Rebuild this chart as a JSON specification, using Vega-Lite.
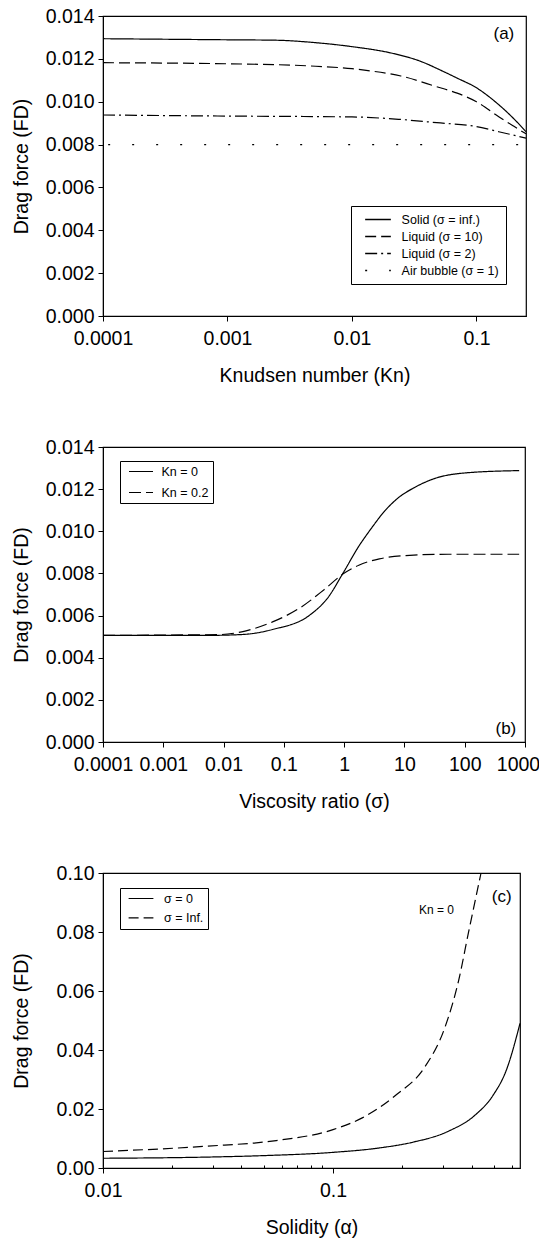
{
 "$schema": "https://vega.github.io/schema/vega-lite/v6.json",
 "padding": {"left": 10, "top": 5, "right": 0, "bottom": 0},
 "bounds": "flush",
 "spacing": 131,
 "config": {
  "font": "Liberation Sans",
  "view": {"stroke": "black", "strokeWidth": 1.2},
  "axis": {"grid": false, "domainColor": "black", "tickColor": "black", "labelColor": "black", "titleColor": "black", "labelFontSize": 19.5, "titleFontSize": 19.5, "titleFontWeight": "normal", "tickSize": 5, "labelOverlap": false, "labelFlush": false, "labelBound": false},
  "axisY": {"labelPadding": 4, "minExtent": 59, "maxExtent": 59, "titlePadding": 13},
  "axisX": {"labelPadding": 8.6, "minExtent": 33, "maxExtent": 33, "titlePadding": 17.5},
  "legend": {"title": null, "orient": "none", "symbolType": "stroke", "symbolStrokeColor": "black", "labelColor": "black", "fillColor": "white", "strokeColor": "black", "clipHeight": 13},
  "text": {"color": "black"}
 },
 "resolve": {"scale": {"strokeDash": "independent"}, "legend": {"strokeDash": "independent"}},
 "vconcat": [
  {
   "width": 423, "height": 300,
   "layer": [
    {
     "data": {"values": [
      {"kn": 0.0001, "fd": 0.01294, "series": "Solid (σ = inf.)"},
      {"kn": 0.001, "fd": 0.01289, "series": "Solid (σ = inf.)"},
      {"kn": 0.00244, "fd": 0.01287, "series": "Solid (σ = inf.)"},
      {"kn": 0.005, "fd": 0.01276, "series": "Solid (σ = inf.)"},
      {"kn": 0.01, "fd": 0.01257, "series": "Solid (σ = inf.)"},
      {"kn": 0.0211, "fd": 0.01226, "series": "Solid (σ = inf.)"},
      {"kn": 0.035, "fd": 0.0119, "series": "Solid (σ = inf.)"},
      {"kn": 0.0547, "fd": 0.0114, "series": "Solid (σ = inf.)"},
      {"kn": 0.07, "fd": 0.0111, "series": "Solid (σ = inf.)"},
      {"kn": 0.1, "fd": 0.01065, "series": "Solid (σ = inf.)"},
      {"kn": 0.1415, "fd": 0.01, "series": "Solid (σ = inf.)"},
      {"kn": 0.2, "fd": 0.0092, "series": "Solid (σ = inf.)"},
      {"kn": 0.25, "fd": 0.0086, "series": "Solid (σ = inf.)"},
      {"kn": 0.0001, "fd": 0.01182, "series": "Liquid (σ = 10)"},
      {"kn": 0.001, "fd": 0.01177, "series": "Liquid (σ = 10)"},
      {"kn": 0.00459, "fd": 0.01167, "series": "Liquid (σ = 10)"},
      {"kn": 0.01, "fd": 0.01154, "series": "Liquid (σ = 10)"},
      {"kn": 0.0144, "fd": 0.01143, "series": "Liquid (σ = 10)"},
      {"kn": 0.0247, "fd": 0.0112, "series": "Liquid (σ = 10)"},
      {"kn": 0.048, "fd": 0.0107, "series": "Liquid (σ = 10)"},
      {"kn": 0.07, "fd": 0.0104, "series": "Liquid (σ = 10)"},
      {"kn": 0.1, "fd": 0.01, "series": "Liquid (σ = 10)"},
      {"kn": 0.151, "fd": 0.0093, "series": "Liquid (σ = 10)"},
      {"kn": 0.2, "fd": 0.00885, "series": "Liquid (σ = 10)"},
      {"kn": 0.25, "fd": 0.0085, "series": "Liquid (σ = 10)"},
      {"kn": 0.0001, "fd": 0.00938, "series": "Liquid (σ = 2)"},
      {"kn": 0.001, "fd": 0.00933, "series": "Liquid (σ = 2)"},
      {"kn": 0.01, "fd": 0.00929, "series": "Liquid (σ = 2)"},
      {"kn": 0.0237, "fd": 0.00918, "series": "Liquid (σ = 2)"},
      {"kn": 0.048, "fd": 0.00902, "series": "Liquid (σ = 2)"},
      {"kn": 0.1, "fd": 0.00884, "series": "Liquid (σ = 2)"},
      {"kn": 0.151, "fd": 0.0086, "series": "Liquid (σ = 2)"},
      {"kn": 0.25, "fd": 0.0083, "series": "Liquid (σ = 2)"},
      {"kn": 0.00011, "fd": 0.008, "series": "Air bubble (σ = 1)"},
      {"kn": 0.25, "fd": 0.008, "series": "Air bubble (σ = 1)"}
     ]},
     "mark": {"type": "line", "color": "black", "strokeWidth": 1.2, "interpolate": "monotone"},
     "encoding": {
      "x": {"field": "kn", "type": "quantitative", "scale": {"type": "log", "domain": [0.0001, 0.25], "nice": false}, "axis": {"values": [0.0001, 0.001, 0.01, 0.1], "format": "~g", "title": "Knudsen number (Kn)"}},
      "y": {"field": "fd", "type": "quantitative", "scale": {"domain": [0, 0.014], "nice": false}, "axis": {"values": [0, 0.002, 0.004, 0.006, 0.008, 0.01, 0.012, 0.014], "format": ".3f", "title": "Drag force (FD)"}},
      "strokeDash": {"field": "series", "type": "nominal", "sort": null,
       "scale": {"domain": ["Solid (σ = inf.)", "Liquid (σ = 10)", "Liquid (σ = 2)", "Air bubble (σ = 1)"], "range": [[1, 0], [11, 5], [12, 4, 2, 4], [2, 22]]},
       "legend": {"legendX": 248, "legendY": 190, "symbolSize": 660, "symbolStrokeWidth": 1.5, "labelFontSize": 12.5, "padding": 7, "symbolOffset": 6, "labelOffset": 9.6, "rowPadding": 4}}
     }
    },
    {
     "data": {"values": [{"kn": 0.166, "fd": 0.01315, "label": "(a)"}]},
     "mark": {"type": "text", "fontSize": 17, "align": "center", "baseline": "middle", "color": "black"},
     "encoding": {"x": {"field": "kn", "type": "quantitative"}, "y": {"field": "fd", "type": "quantitative"}, "text": {"field": "label"}}
    }
   ]
  },
  {
   "width": 422, "height": 295,
   "layer": [
    {
     "data": {"values": [
      {"vr": 0.0001, "fd": 0.00506, "series": "Kn = 0"},
      {"vr": 0.0054, "fd": 0.00506, "series": "Kn = 0"},
      {"vr": 0.02, "fd": 0.0051, "series": "Kn = 0"},
      {"vr": 0.065, "fd": 0.00534, "series": "Kn = 0"},
      {"vr": 0.277, "fd": 0.00605, "series": "Kn = 0"},
      {"vr": 0.535, "fd": 0.00684, "series": "Kn = 0"},
      {"vr": 0.966, "fd": 0.00803, "series": "Kn = 0"},
      {"vr": 1.75, "fd": 0.00929, "series": "Kn = 0"},
      {"vr": 2.76, "fd": 0.0101, "series": "Kn = 0"},
      {"vr": 4.67, "fd": 0.01095, "series": "Kn = 0"},
      {"vr": 8, "fd": 0.0116, "series": "Kn = 0"},
      {"vr": 14.3, "fd": 0.01206, "series": "Kn = 0"},
      {"vr": 31.4, "fd": 0.0125, "series": "Kn = 0"},
      {"vr": 102, "fd": 0.01277, "series": "Kn = 0"},
      {"vr": 800, "fd": 0.01288, "series": "Kn = 0"},
      {"vr": 0.0001, "fd": 0.00506, "series": "Kn = 0.2"},
      {"vr": 0.0091, "fd": 0.0051, "series": "Kn = 0.2"},
      {"vr": 0.02, "fd": 0.00523, "series": "Kn = 0.2"},
      {"vr": 0.065, "fd": 0.0057, "series": "Kn = 0.2"},
      {"vr": 0.186, "fd": 0.00637, "series": "Kn = 0.2"},
      {"vr": 0.47, "fd": 0.00724, "series": "Kn = 0.2"},
      {"vr": 0.966, "fd": 0.00798, "series": "Kn = 0.2"},
      {"vr": 1.75, "fd": 0.00839, "series": "Kn = 0.2"},
      {"vr": 3.84, "fd": 0.00869, "series": "Kn = 0.2"},
      {"vr": 14.3, "fd": 0.00887, "series": "Kn = 0.2"},
      {"vr": 53, "fd": 0.00891, "series": "Kn = 0.2"},
      {"vr": 800, "fd": 0.00891, "series": "Kn = 0.2"}
     ]},
     "mark": {"type": "line", "color": "black", "strokeWidth": 1.2, "interpolate": "monotone"},
     "encoding": {
      "x": {"field": "vr", "type": "quantitative", "scale": {"type": "log", "domain": [0.0001, 1000], "nice": false},
       "axis": {"values": [0.0001, 0.001, 0.01, 0.1, 1, 10, 100, 1000], "format": "~g",
        "labelOffset": {"condition": {"test": "datum.value == 1000", "value": -7}, "value": 0},
        "title": "Viscosity ratio (σ)"}},
      "y": {"field": "fd", "type": "quantitative", "scale": {"domain": [0, 0.014], "nice": false}, "axis": {"values": [0, 0.002, 0.004, 0.006, 0.008, 0.01, 0.012, 0.014], "format": ".3f", "title": "Drag force (FD)"}},
      "strokeDash": {"field": "series", "type": "nominal", "sort": null,
       "scale": {"domain": ["Kn = 0", "Kn = 0.2"], "range": [[1, 0], [12, 5]]},
       "legend": {"legendX": 17, "legendY": 14, "symbolSize": 576, "symbolStrokeWidth": 1.2, "labelFontSize": 12.5, "padding": 4, "symbolOffset": 4, "labelOffset": 7.5, "rowPadding": 8}}
     }
    },
    {
     "data": {"values": [{"vr": 482, "fd": 0.00064, "label": "(b)"}]},
     "mark": {"type": "text", "fontSize": 17, "align": "center", "baseline": "middle", "color": "black"},
     "encoding": {"x": {"field": "vr", "type": "quantitative"}, "y": {"field": "fd", "type": "quantitative"}, "text": {"field": "label"}}
    }
   ]
  },
  {
   "width": 417, "height": 295,
   "layer": [
    {
     "data": {"values": [
      {"sol": 0.01, "fd": 0.0033, "series": "σ = 0"},
      {"sol": 0.0284, "fd": 0.0037, "series": "σ = 0"},
      {"sol": 0.05, "fd": 0.0042, "series": "σ = 0"},
      {"sol": 0.1, "fd": 0.0053, "series": "σ = 0"},
      {"sol": 0.159, "fd": 0.0068, "series": "σ = 0"},
      {"sol": 0.224, "fd": 0.0088, "series": "σ = 0"},
      {"sol": 0.316, "fd": 0.0124, "series": "σ = 0"},
      {"sol": 0.417, "fd": 0.0181, "series": "σ = 0"},
      {"sol": 0.495, "fd": 0.0245, "series": "σ = 0"},
      {"sol": 0.569, "fd": 0.0335, "series": "σ = 0"},
      {"sol": 0.65, "fd": 0.049, "series": "σ = 0"},
      {"sol": 0.01, "fd": 0.0056, "series": "σ = Inf."},
      {"sol": 0.0284, "fd": 0.0074, "series": "σ = Inf."},
      {"sol": 0.0566, "fd": 0.0093, "series": "σ = Inf."},
      {"sol": 0.1, "fd": 0.013, "series": "σ = Inf."},
      {"sol": 0.134, "fd": 0.017, "series": "σ = Inf."},
      {"sol": 0.189, "fd": 0.0249, "series": "σ = Inf."},
      {"sol": 0.249, "fd": 0.0339, "series": "σ = Inf."},
      {"sol": 0.306, "fd": 0.0475, "series": "σ = Inf."},
      {"sol": 0.351, "fd": 0.0633, "series": "σ = Inf."},
      {"sol": 0.389, "fd": 0.0802, "series": "σ = Inf."},
      {"sol": 0.44, "fd": 0.1, "series": "σ = Inf."}
     ]},
     "mark": {"type": "line", "color": "black", "strokeWidth": 1.2, "interpolate": "monotone"},
     "encoding": {
      "x": {"field": "sol", "type": "quantitative", "scale": {"type": "log", "domain": [0.01, 0.65], "nice": false},
       "axis": {"values": [0.01, 0.02, 0.03, 0.04, 0.05, 0.06, 0.07, 0.08, 0.09, 0.1, 0.2, 0.3, 0.4, 0.5, 0.6], "format": "~g",
        "labelExpr": "datum.value == 0.01 || datum.value == 0.1 ? datum.label : ''",
        "tickSize": {"condition": {"test": "datum.value == 0.01 || datum.value == 0.1", "value": 5}, "value": -3},
        "title": "Solidity (α)"}},
      "y": {"field": "fd", "type": "quantitative", "scale": {"domain": [0, 0.1], "nice": false}, "axis": {"values": [0, 0.02, 0.04, 0.06, 0.08, 0.1], "format": ".2f", "title": "Drag force (FD)"}},
      "strokeDash": {"field": "series", "type": "nominal", "sort": null,
       "scale": {"domain": ["σ = 0", "σ = Inf."], "range": [[1, 0], [10, 5]]},
       "legend": {"legendX": 17, "legendY": 15, "symbolSize": 615, "symbolStrokeWidth": 1.2, "labelFontSize": 12.5, "padding": 4, "symbolOffset": 4, "labelOffset": 10, "rowPadding": 6.4}}
     }
    },
    {
     "data": {"values": [{"sol": 0.541, "fd": 0.092, "label": "(c)"}, {"sol": 0.2817, "fd": 0.0875, "label": "Kn = 0"}]},
     "mark": {"type": "text", "align": "center", "baseline": "middle", "color": "black"},
     "encoding": {"x": {"field": "sol", "type": "quantitative"}, "y": {"field": "fd", "type": "quantitative"}, "text": {"field": "label"},
      "size": {"field": "label", "type": "nominal", "scale": {"domain": ["(c)", "Kn = 0"], "range": [17, 12]}, "legend": null}}
    }
   ]
  }
 ]
}
